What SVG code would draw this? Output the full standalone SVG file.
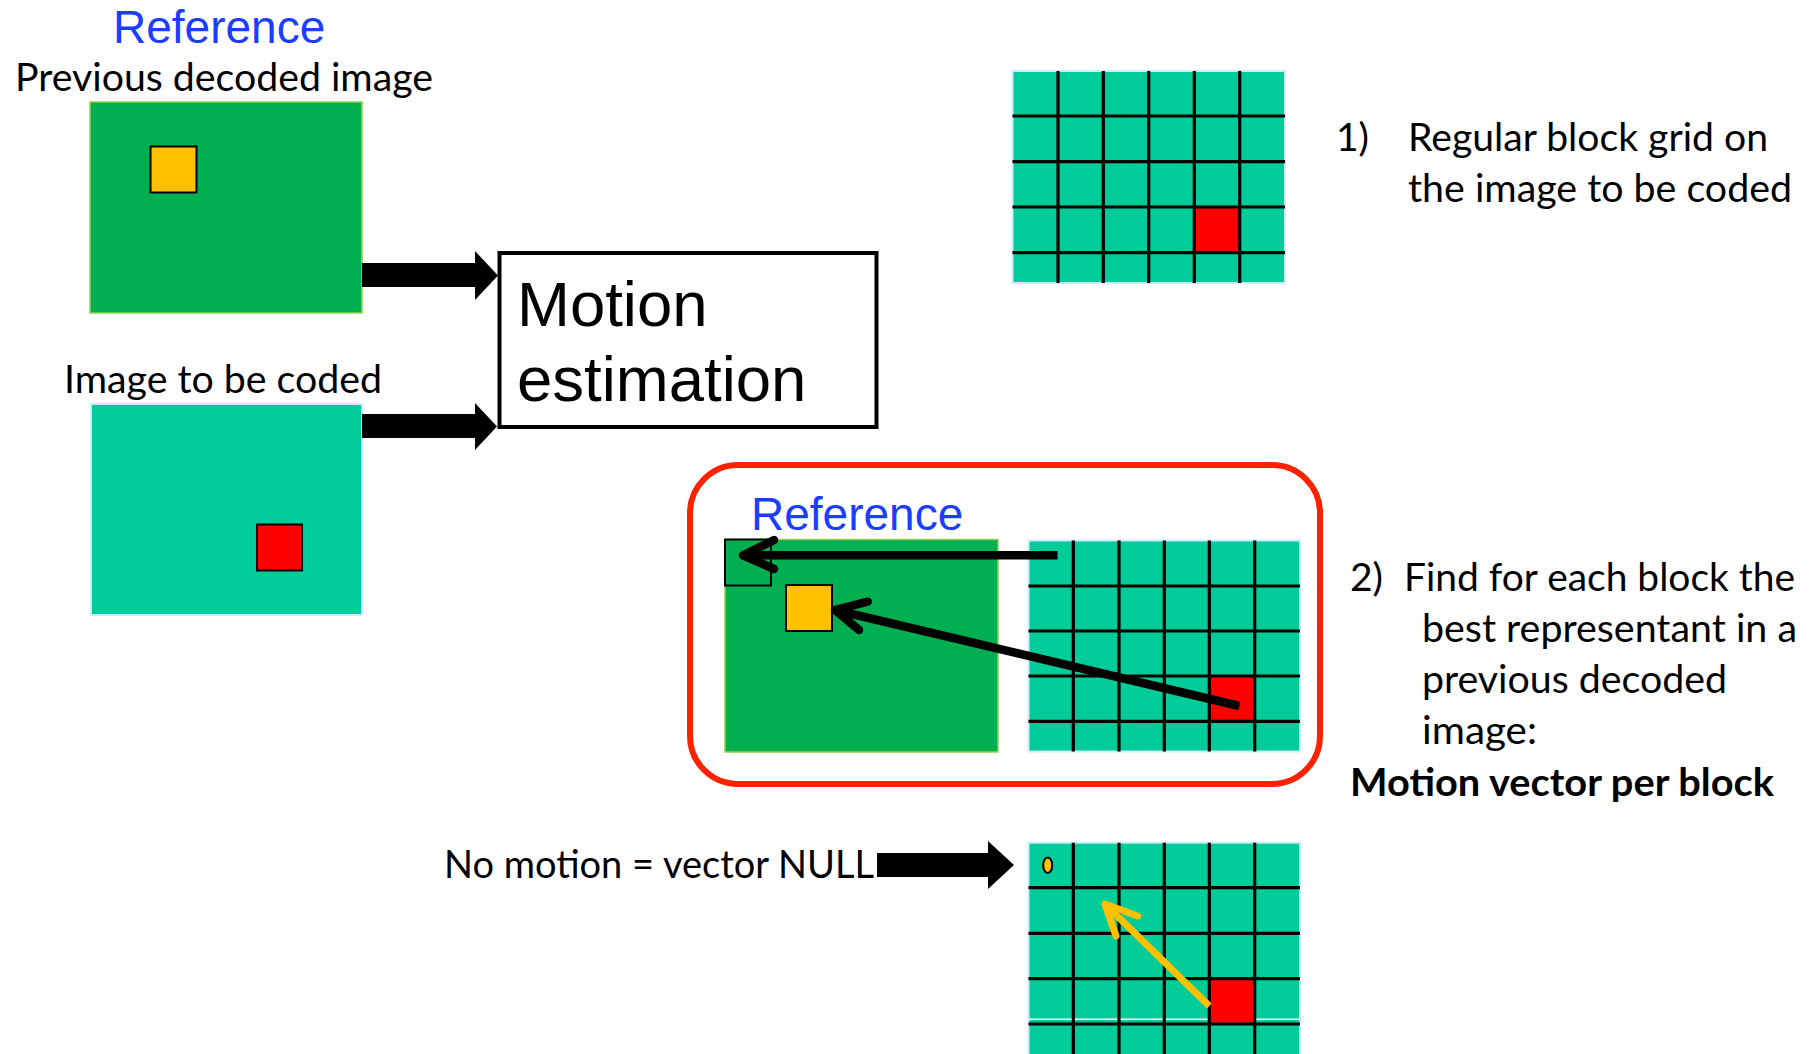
<svg xmlns="http://www.w3.org/2000/svg" width="1809" height="1054" viewBox="0 0 1809 1054">
<style>
.cal{font-family:Lato,"Open Sans","Liberation Sans",sans-serif;font-size:39px;fill:#000}
.bold{font-weight:bold}
.blue{font-family:"Liberation Sans",Arial,sans-serif;font-size:46px;fill:#1A3DFF}
.me{font-family:"Liberation Sans",Arial,sans-serif;font-size:63.5px;fill:#000}
.green{fill:#00B050;stroke:#92D050;stroke-width:1.5}
.cyan{fill:#00CC99;stroke:#CCECFF;stroke-width:2}
.yel{fill:#FFC000;stroke:#000;stroke-width:2}
.red{fill:#FF0000}
.redb{fill:#FF0000;stroke:#000;stroke-width:2}
.gl{stroke:#000;stroke-width:3.2;fill:none}
.vec{stroke:#000;stroke-width:8.5;fill:none;stroke-linecap:round;stroke-linejoin:round}
.yvec{stroke:#FFC000;stroke-width:7;fill:none;stroke-linecap:round;stroke-linejoin:round}
</style>

<g id="ref-image">
  <text class="blue" x="113" y="43">Reference</text>
  <text class="cal" x="15" y="91" textLength="418" lengthAdjust="spacingAndGlyphs">Previous decoded image</text>
  <rect class="green" x="90" y="102" width="272" height="211"/>
  <rect class="yel" x="150.5" y="146.5" width="46" height="46"/>
</g>

<g id="coded-image">
  <text class="cal" x="64" y="393" textLength="318" lengthAdjust="spacingAndGlyphs">Image to be coded</text>
  <rect class="cyan" x="91" y="404" width="271" height="211"/>
  <rect class="redb" x="257" y="524.5" width="45" height="46"/>
</g>

<g id="motion-estimation">
  <rect x="499.5" y="253" width="377" height="174" fill="#fff" stroke="#000" stroke-width="4"/>
  <text class="me" x="517" y="326">Motion</text>
  <text class="me" x="517" y="401">estimation</text>
</g>

<g id="grid-step1">
  <rect class="cyan" x="1012.5" y="71" width="272.5" height="212"/>
  <rect class="red" x="1194.3" y="207" width="45.4" height="45.7"/>
  <path class="gl" d="M1058 71V283M1103.3 71V283M1148.7 71V283M1194.3 71V283M1239.7 71V283M1012.5 116H1285M1012.5 161.7H1285M1012.5 207H1285M1012.5 252.7H1285"/>
  <text class="cal" x="1336" y="151">1)</text>
  <text class="cal" x="1408" y="151" textLength="360" lengthAdjust="spacingAndGlyphs">Regular block grid on</text>
  <text class="cal" x="1408" y="202" textLength="384" lengthAdjust="spacingAndGlyphs">the image to be coded</text>
</g>

<g id="search-panel">
  <rect x="690" y="465" width="630" height="319" rx="48" ry="48" fill="none" stroke="#FF2200" stroke-width="6"/>
  <text class="blue" x="751" y="530">Reference</text>
  <rect class="green" x="725" y="539.5" width="273" height="212.5"/>
  <rect x="725" y="539.5" width="46" height="46" fill="none" stroke="#000" stroke-width="2"/>
  <rect class="yel" x="786" y="585" width="46" height="46"/>
  <rect class="cyan" x="1028.5" y="540.5" width="271.5" height="211"/>
  <rect class="red" x="1210" y="676.5" width="44.5" height="44.5"/>
  <path class="gl" d="M1073.3 540.5V751.5M1119 540.5V751.5M1164.3 540.5V751.5M1209.3 540.5V751.5M1254.7 540.5V751.5M1028.5 586H1300M1028.5 631H1300M1028.5 676H1300M1028.5 721.3H1300"/>
</g>

<g id="step2-text">
  <text class="cal" x="1350" y="591">2)</text>
  <text class="cal" x="1404" y="591" textLength="391" lengthAdjust="spacingAndGlyphs">Find for each block the</text>
  <text class="cal" x="1422" y="642" textLength="375" lengthAdjust="spacingAndGlyphs">best representant in a</text>
  <text class="cal" x="1422" y="693" textLength="305" lengthAdjust="spacingAndGlyphs">previous decoded</text>
  <text class="cal" x="1422" y="744" textLength="115" lengthAdjust="spacingAndGlyphs">image:</text>
  <text class="cal bold" x="1350" y="796" textLength="424" lengthAdjust="spacingAndGlyphs">Motion vector per block</text>
</g>

<g id="null-grid">
  <text class="cal" x="444" y="878" textLength="430" lengthAdjust="spacingAndGlyphs">No motion = vector NULL</text>
  <rect class="cyan" x="1028.5" y="842.7" width="271.5" height="220"/>
  <path d="M1028.5 1019.3H1300" stroke="#fff" stroke-width="1.5"/>
  <rect class="red" x="1210" y="980" width="44.5" height="42.7"/>
  <path class="gl" d="M1073.3 842.7V1054M1119 842.7V1054M1164.3 842.7V1054M1209.3 842.7V1054M1254.7 842.7V1054M1028.5 887.7H1300M1028.5 933.3H1300M1028.5 978.7H1300M1028.5 1024H1300"/>
  <ellipse cx="1047.7" cy="865.3" rx="4.5" ry="7.8" fill="#FFC000" stroke="#000" stroke-width="2"/>
</g>

<g id="connectors">
  <polygon points="362,263 475,263 475,251 498,275.5 475,300 475,287 362,287" fill="#000"/>
  <polygon points="362,414 475,414 475,403 497,426.5 475,450 475,438 362,438" fill="#000"/>
  <polygon points="877,853 988,853 988,841 1014,865 988,889 988,877 877,877" fill="#000"/>
  <path class="vec" d="M1057.5 555.3H743" style="stroke-linecap:butt"/>
  <path class="vec" d="M774 540L743 555.3L774 569"/>
  <path class="vec" d="M1239.3 706L835 610" style="stroke-linecap:butt"/>
  <path class="vec" d="M867.7 601.7L835 610L859 630"/>
  <path class="yvec" d="M1209.3 1006L1106 905" style="stroke-linecap:butt"/>
  <path class="yvec" d="M1137.7 916L1105 904L1116 936"/>
</g>
</svg>
